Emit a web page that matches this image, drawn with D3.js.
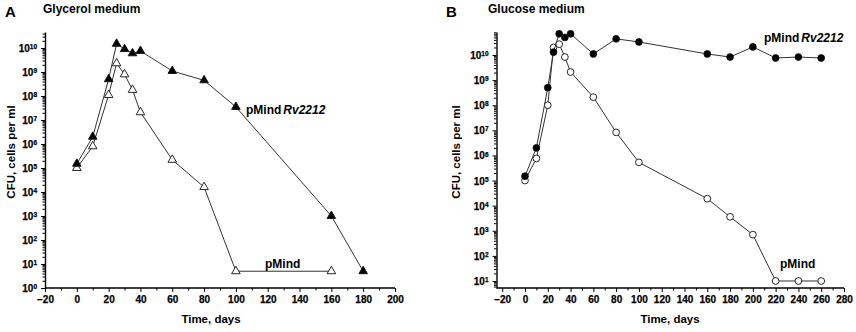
<!DOCTYPE html>
<html>
<head>
<meta charset="utf-8">
<script src="https://cdnjs.cloudflare.com/ajax/libs/d3/7.8.5/d3.min.js"></script>
<style>
  body { margin: 0; background: #fff; }
  svg, svg text { font-family: "Liberation Sans", Arial, sans-serif; font-weight: bold; }
  .domain { stroke: #000; stroke-width: 1.4; }
  .tick line { stroke: #000; stroke-width: 1; }
  .tick text { stroke: #000; stroke-width: 0.25; }
</style>
</head>
<body>
<svg width="856" height="332"></svg>
<script>
// Panel A: glycerol medium
const daysA = [0, 10, 20, 25, 30, 35, 40, 60, 80, 100, 160, 180];
const rvA = [1.5e5, 2e6, 5e8, 1.5e10, 9e9, 6e9, 7.5e9, 1.1e9, 4.5e8, 3.5e7, 1e3, 5];
const daysA2 = [0, 10, 20, 25, 30, 35, 40, 60, 80, 100, 160];
const pmA = [1e5, 8e5, 1.1e8, 2.3e9, 8e8, 1.8e8, 2.1e7, 2.2e5, 1.6e4, 5, 5];

// Panel B: glucose medium
const daysB = [0, 10, 20, 25, 30, 35, 40, 60, 80, 100, 160, 180, 200, 220, 240, 260];
const rvB = [1.5e5, 2e6, 5e8, 1.3e10, 7e10, 5e10, 7e10, 1.1e10, 4.4e10, 3.3e10, 1.1e10, 8.3e9, 2.1e10, 7.6e9, 8.3e9, 7.6e9];
const pmB = [1e5, 7.6e5, 1e8, 2e10, 2.7e10, 8.3e9, 2.1e9, 2.1e8, 8.3e6, 5.3e5, 1.9e4, 3.6e3, 7e2, 10, 10, 10];

const xTicksA = d3.range(-20, 201, 20);
const xTicksB = d3.range(-20, 281, 20);
const expA = d3.range(0, 11);
const expB = d3.range(1, 11);

const svg = d3.select('svg');

function panel(o) {
  const x = d3.scaleLinear().domain(o.xDomain).range(o.xRange);
  const y = d3.scaleLog().domain(o.yDomain).range([288, 32]);
  const g = svg.append('g');

  // minor y ticks
  const minors = [];
  for (let e = -1; e <= 11; e++) {
    for (let m = 2; m <= 9; m++) {
      const v = m * Math.pow(10, e);
      if (v >= o.yDomain[0] && v <= o.yDomain[1]) minors.push(v);
    }
  }
  g.append('g')
    .attr('transform', `translate(${o.xRange[0]},0)`)
    .call(d3.axisLeft(y).tickValues(minors).tickSize(2.5).tickFormat(''))
    .call(s => s.select('.domain').remove());

  const yAx = g.append('g')
    .attr('transform', `translate(${o.xRange[0]},0)`)
    .call(d3.axisLeft(y).tickValues(o.exps.map(e => Math.pow(10, e))).tickSize(4).tickSizeOuter(0).tickFormat(''));
  yAx.selectAll('.tick').each(function(d) {
    const t = d3.select(this).append('text')
      .attr('x', -8).attr('dy', '0.35em')
      .attr('text-anchor', 'end')
      .style('font-size', '10px').attr('fill', '#000');
    t.append('tspan').text('10');
    t.append('tspan').attr('dy', '-0.45em').style('font-size', '6.5px').text(Math.round(Math.log10(d)));
  });

  // x minor ticks
  const xMinor = d3.range(o.xTicks[0] + 10, o.xTicks[o.xTicks.length - 1], 20);
  g.append('g')
    .attr('transform', 'translate(0,288)')
    .call(d3.axisBottom(x).tickValues(xMinor).tickSize(2.5).tickFormat(''))
    .call(s => s.select('.domain').remove());
  g.append('g')
    .attr('transform', 'translate(0,288)')
    .call(d3.axisBottom(x).tickValues(o.xTicks).tickSize(4).tickSizeOuter(0).tickPadding(4))
    .call(s => s.selectAll('text').style('font-size', '10px').style('font-weight', 'bold').attr('fill', '#000'))
    .call(s => s.select('.domain').attr('d', `M${o.xRange[0]},0H${o.xRange[1]}`));

  // axis titles
  g.append('text')
    .attr('transform', `translate(${o.yLabelX},152) rotate(-90)`)
    .attr('text-anchor', 'middle').style('font-size', '11.5px').text('CFU, cells per ml');
  g.append('text')
    .attr('x', o.xLabelX).attr('y', 323)
    .attr('text-anchor', 'middle').style('font-size', '11.5px').text('Time, days');

  // titles
  g.append('text').attr('x', o.letterX).attr('y', 17).style('font-size', '15px').text(o.letter);
  g.append('text').attr('x', o.titleX).attr('y', 13).style('font-size', '12px').text(o.title);

  const line = d3.line().x(d => x(d[0])).y(d => y(d[1]));
  o.series.forEach(s => {
    const pts = s.days.map((d, i) => [d, s.vals[i]]);
    g.append('path').datum(pts).attr('d', line)
      .attr('fill', 'none').attr('stroke', '#333').attr('stroke-width', 1);
    g.selectAll(null).data(pts).enter().append('path')
      .attr('transform', d => `translate(${x(d[0])},${y(d[1])})`)
      .attr('d', d3.symbol().type(o.symbol).size(o.symbol === d3.symbolTriangle ? 32 : 36))
      .attr('fill', s.filled ? '#000' : '#fff')
      .attr('stroke', '#111').attr('stroke-width', 0.9);
  });

  // series labels
  const l1 = g.append('text').attr('x', o.rvLabel[0]).attr('y', o.rvLabel[1]).style('font-size', '12px');
  l1.append('tspan').text('pMind');
  l1.append('tspan').attr('dx', 2).style('font-style', 'italic').text('Rv2212');
  g.append('text').attr('x', o.pmLabel[0]).attr('y', o.pmLabel[1]).style('font-size', '12px').text('pMind');
}

panel({
  xDomain: [-20, 200], xRange: [45, 395],
  yDomain: [1, Math.pow(10, 10.667)], exps: expA, xTicks: xTicksA,
  yLabelX: 15, xLabelX: 211, letter: 'A', letterX: 5, title: 'Glycerol medium', titleX: 43,
  symbol: d3.symbolTriangle,
  series: [
    { days: daysA2, vals: pmA, filled: false },
    { days: daysA, vals: rvA, filled: true }
  ],
  rvLabel: [246, 114], pmLabel: [265, 268]
});

panel({
  xDomain: [-25, 280], xRange: [496.5, 844],
  yDomain: [Math.pow(10, 0.721), Math.pow(10, 10.916)], exps: expB, xTicks: xTicksB,
  yLabelX: 460, xLabelX: 670, letter: 'B', letterX: 446, title: 'Glucose medium', titleX: 488,
  symbol: d3.symbolCircle,
  series: [
    { days: daysB, vals: pmB, filled: false },
    { days: daysB, vals: rvB, filled: true }
  ],
  rvLabel: [764, 42], pmLabel: [780, 268]
});
</script>
</body>
</html>
